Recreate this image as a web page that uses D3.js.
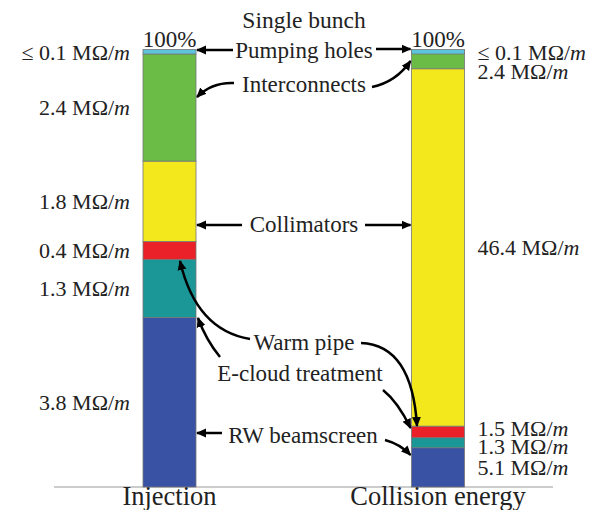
<!DOCTYPE html>
<html lang="en">
  <head>
    <meta charset="UTF-8" />
    <title>Single bunch impedance budget</title>
    <style>
      body { margin: 0; background: #fff; }
      svg text { font-family: "Liberation Serif", serif; }
    </style>
  </head>
  <body>
    <script src="https://d3js.org/d3.v7.min.js"></script>
    <script>
      const width = 600
      const height = 510
      const fontName = "Liberation Serif"

      // data, in MOhm/m
      const categories = ["Injection", "Collision energy"]
      const components = ["RW beamscreen", "E-cloud treatment", "Warm pipe", "Collimators", "Interconnects", "Pumping holes"]
      const injection = [3.8, 1.3, 0.4, 1.8, 2.4, 0.1]
      const collision = [5.1, 1.3, 1.5, 46.4, 2.4, 0.1]
      const colors = ["#3a52a3", "#1b9798", "#ea2129", "#f2e81b", "#6bbc46", "#5cc4dd"]

      const series = [injection, collision]

      const svg = d3.select("body").append("svg")
        .attr("width", width)
        .attr("height", height)
        .attr("font-family", fontName)

      const defs = svg.append("defs")
      defs.append("marker")
        .attr("id", "head")
        .attr("viewBox", "0 -5 10 10")
        .attr("refX", 9)
        .attr("refY", 0)
        .attr("markerWidth", 4)
        .attr("markerHeight", 4)
        .attr("markerUnits", "strokeWidth")
        .attr("orient", "auto")
        .append("path")
        .attr("d", "M0,-4.5L10,0L0,4.5Z")
        .attr("fill", "#000")

      const barWidth = 53
      const x = d3.scalePoint().domain(categories).range([169.5, 438])
      const y = d3.scaleLinear().domain([0, 1]).range([487, 49.5])

      const minH = 4.5 // thinnest segment still visible

      // baseline
      svg.append("line")
        .attr("x1", 54).attr("x2", 553)
        .attr("y1", 487).attr("y2", 487)
        .attr("stroke", "#999").attr("stroke-width", 1)

      function label(sel, size) {
        return sel.attr("font-family", fontName)
          .style("font-family", fontName)
          .style("font-size", size + "px")
          .attr("fill", "#222")
      }

      categories.forEach(function (cat, ci) {
        const vals = series[ci]
        const total = d3.sum(vals)
        const stack = []
        let acc = 0
        vals.forEach(function (v, i) {
          stack.push({ i: i, v: v, y0: acc / total, y1: (acc + v) / total })
          acc += v
        })
        const g = svg.append("g")
        const x0 = x(cat) - barWidth / 2

        g.selectAll("rect")
          .data(stack)
          .enter()
          .append("rect")
          .attr("x", x0)
          .attr("width", barWidth)
          .attr("y", d => y(d.y1))
          .attr("height", d => Math.max(y(d.y0) - y(d.y1), minH))
          .attr("fill", d => colors[d.i])
          .attr("stroke", "#777")
          .attr("stroke-width", 0.8)

        // 100% on top
        label(g.append("text"), 23)
          .attr("x", x(cat))
          .attr("y", y(1) - 3)
          .attr("text-anchor", "middle")
          .text("100%")

        // value labels, dodged so they do not collide
        const labels = stack.map(function (d) {
          const top = y(d.y1)
          const h = Math.max(y(d.y0) - top, minH)
          return { d: d, pos: top + h / 2 }
        }).reverse()
        labels[0].pos = Math.max(labels[0].pos, y(1) + 3)
        const gap = 18.5
        let clusters = labels.map(l => ({ items: [l], c: l.pos }))
        let moved = true
        while (moved) {
          moved = false
          for (let k = 0; k < clusters.length - 1; k++) {
            const a = clusters[k], b = clusters[k + 1]
            const aEnd = a.c + (a.items.length - 1) * gap / 2
            const bStart = b.c - (b.items.length - 1) * gap / 2
            if (bStart - aEnd < gap) {
              const items = a.items.concat(b.items)
              let c = d3.mean(items, l => l.pos)
              if (k === 0) c = Math.max(c, labels[0].pos + (items.length - 1) * gap / 2)
              clusters.splice(k, 2, { items: items, c: c })
              moved = true
              break
            }
          }
        }
        clusters.forEach(function (cl) {
          cl.items.forEach(function (l, j) {
            l.y = cl.c + (j - (cl.items.length - 1) / 2) * gap
          })
        })

        const right = ci === 1
        const t = g.selectAll("text.val")
          .data(labels)
          .enter()
          .append("text")
          .attr("class", "val")
          .attr("x", right ? x0 + barWidth + 13 : x0 - 13)
          .attr("y", l => l.y)
          .attr("dy", "0.35em")
          .attr("text-anchor", right ? "start" : "end")
        label(t, 22)
        t.append("tspan").text(l => (l.d.v <= 0.1 ? "\u2264 " : "") + l.d.v.toFixed(1) + "  M\u03A9/")
        t.append("tspan").style("font-style", "italic").text("m")

        label(g.append("text"), 26.5)
          .attr("x", x(cat))
          .attr("y", 505)
          .attr("text-anchor", "middle")
          .text(cat)
      })

      label(svg.append("text"), 23.5)
        .attr("x", 304)
        .attr("y", 28)
        .attr("text-anchor", "middle")
        .text("Single bunch")

      // annotations: text plus arrows to both bars
      const leftEdge = x(categories[0]) + barWidth / 2 + 1
      const rightEdge = x(categories[1]) - barWidth / 2 - 1
      const notes = [
        { name: "Pumping holes", x: 304, y: 50,
          arrows: [`M233,50L${leftEdge},50`, `M376,49L${rightEdge},49`] },
        { name: "Interconnects", x: 304, y: 84,
          arrows: [`M234,83Q212,82 ${leftEdge},97`, `M372,87Q396,82 ${rightEdge},61`] },
        { name: "Collimators", x: 304, y: 224,
          arrows: [`M242,225L${leftEdge},225`, `M365,225L${rightEdge},225`] },
        { name: "Warm pipe", x: 304, y: 342,
          arrows: ["M250,339Q196,330 180,261", "M361,343Q412,345 417,426"] },
        { name: "E-cloud treatment", x: 300, y: 373,
          arrows: [`M220,357Q206,340 ${leftEdge + 1},318`, `M383,390Q398,402 ${rightEdge},428`] },
        { name: "RW beamscreen", x: 303, y: 435,
          arrows: [`M222,433L${leftEdge},433`, `M385,440Q400,444 ${rightEdge},455`] }
      ]

      notes.forEach(function (n) {
        label(svg.append("text"), 23)
          .attr("x", n.x)
          .attr("y", n.y)
          .attr("dy", "0.35em")
          .attr("text-anchor", "middle")
          .text(n.name)
        n.arrows.forEach(function (d) {
          svg.append("path")
            .attr("d", d)
            .attr("fill", "none")
            .attr("stroke", "#000")
            .attr("stroke-width", 2.5)
            .attr("marker-end", "url(#head)")
        })
      })
    </script>
  </body>
</html>
